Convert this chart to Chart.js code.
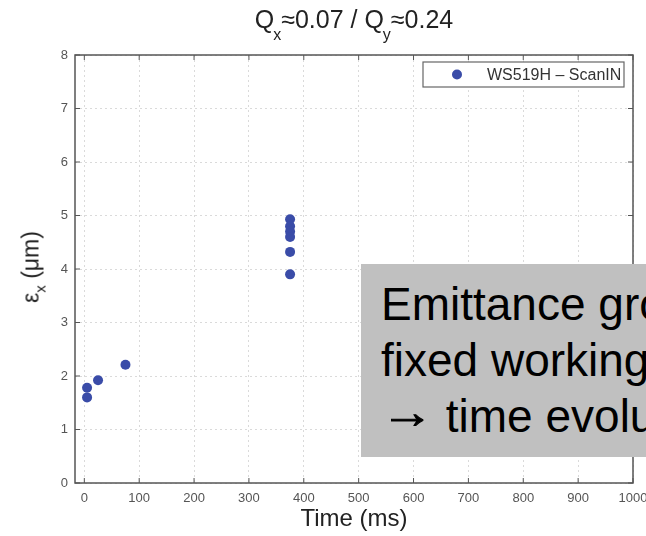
<!DOCTYPE html>
<html>
<head>
<meta charset="utf-8">
<script src="https://cdn.jsdelivr.net/npm/chart.js@4.4.0/dist/chart.umd.min.js"></script>
<style>
  body { margin:0; width:646px; height:536px; overflow:hidden; background:#fff; position:relative;
         font-family:"Liberation Sans", Arial, sans-serif; }
  #myChart { position:absolute; left:0; top:0; }
  #title { position:absolute; left:0; top:7px; width:708px; text-align:center; font-size:25px;
           line-height:25px; color:#222; white-space:nowrap; }
  #title .sub { position:relative; top:12px; font-size:16px; margin-left:-1px; }
  #ylabel { position:absolute; left:32px; top:267px; transform:translate(-50%,-50%) rotate(-90deg);
            font-size:23px; line-height:26px; color:#222; white-space:nowrap; }
  #ylabel .sub { position:relative; top:7px; font-size:15px; }
  #note { position:absolute; left:361px; top:264px; width:330px; height:193px; background:#c0c0c0;
          box-sizing:border-box; padding:12px 0 0 20px; font-size:46px; line-height:56px;
          color:#000; white-space:nowrap; overflow:hidden; }
  #note .arrow { display:inline-block; transform:scaleX(1.15); transform-origin:left center;
                 -webkit-text-stroke:1px #000; margin-right:6px; position:relative; top:-4px; }
</style>
</head>
<body>
<canvas id="myChart" width="646" height="536"></canvas>
<div id="title">Q<span class="sub">x</span>≈0.07 / Q<span class="sub">y</span>≈0.24</div>
<div id="ylabel">ε<span class="sub">x</span> (μm)</div>
<div id="note">Emittance growth at<br>fixed working point<br><span class="arrow">→</span> time evolution</div>
<script>
// wire scanner measurements, horizontal plane
const seriesLabel = "WS519H – ScanIN";
const times = [5, 5, 25, 75, 375, 375, 375, 375, 375, 375];          // ms
const emittance = [1.78, 1.60, 1.92, 2.21, 4.93, 4.80, 4.70, 4.60, 4.32, 3.90]; // um
const xTicks = [0, 100, 200, 300, 400, 500, 600, 700, 800, 900, 1000];
const yTicks = [0, 1, 2, 3, 4, 5, 6, 7, 8];

const dotColor = "#3a4ca8";
const axisColor = "#555";

// box round the plot, matlab style ticks pointing inwards, and the legend
const framePlugin = {
    id: "frame",
    afterDraw(chart) {
        const ctx = chart.ctx;
        const a = chart.chartArea;
        const xs = chart.scales.x;
        const ys = chart.scales.y;
        ctx.save();
        ctx.strokeStyle = axisColor;
        ctx.lineWidth = 1.5;
        ctx.strokeRect(a.left, a.top, a.right - a.left, a.bottom - a.top);

        ctx.lineWidth = 1;
        ctx.beginPath();
        xs.ticks.forEach(t => {
            const px = xs.getPixelForValue(t.value);
            ctx.moveTo(px, a.bottom); ctx.lineTo(px, a.bottom - 5);
            ctx.moveTo(px, a.top); ctx.lineTo(px, a.top + 5);
        });
        ys.ticks.forEach(t => {
            const py = ys.getPixelForValue(t.value);
            ctx.moveTo(a.left, py); ctx.lineTo(a.left + 5, py);
            ctx.moveTo(a.right, py); ctx.lineTo(a.right - 5, py);
        });
        ctx.stroke();

        // legend
        const ds = chart.data.datasets[0];
        const bw = 201, bh = 25;
        const bx = a.right - 9 - bw, by = a.top + 7;
        ctx.fillStyle = "#fff";
        ctx.fillRect(bx, by, bw, bh);
        ctx.strokeStyle = "#666";
        ctx.lineWidth = 1.2;
        ctx.strokeRect(bx, by, bw, bh);
        ctx.fillStyle = ds.backgroundColor;
        ctx.beginPath();
        ctx.arc(bx + 34, by + bh / 2, ds.pointRadius, 0, Math.PI * 2);
        ctx.fill();
        ctx.fillStyle = "#333";
        ctx.font = '16px "Liberation Sans", Arial, sans-serif';
        ctx.textBaseline = "middle";
        ctx.fillText(ds.label, bx + 64, by + bh / 2 + 1);
        ctx.restore();
    }
};

const ctx = document.getElementById("myChart");
new Chart(ctx, {
    type: "scatter",
    data: {
        datasets: [{
            label: seriesLabel,
            data: times.map((t, i) => ({ x: t, y: emittance[i] })),
            backgroundColor: dotColor,
            borderColor: dotColor,
            borderWidth: 0,
            pointRadius: 5,
            pointHoverRadius: 5
        }]
    },
    options: {
        responsive: false,
        animation: false,
        devicePixelRatio: 1,
        layout: { padding: { top: 55, right: 13, left: 0, bottom: 0 } },
        plugins: {
            legend: { display: false },
            tooltip: { enabled: false },
            title: { display: false }
        },
        scales: {
            x: {
                type: "linear",
                min: -17,
                max: 1000,
                afterBuildTicks: s => { s.ticks = xTicks.map(v => ({ value: v })); },
                afterFit: s => { s.height = 53; s.paddingLeft = 0; s.paddingRight = 0; },
                grid: { color: "#dadada", drawTicks: false },
                border: { display: false, dash: [2, 3] },
                ticks: {
                    padding: 8,
                    color: "#555",
                    font: { family: '"Liberation Sans", Arial, sans-serif', size: 13 },
                    callback: v => String(v)
                },
                title: {
                    display: true,
                    text: "Time (ms)",
                    color: "#222",
                    font: { family: '"Liberation Sans", Arial, sans-serif', size: 24 },
                    padding: { top: 0, bottom: 2 }
                }
            },
            y: {
                min: 0,
                max: 8,
                afterBuildTicks: s => { s.ticks = yTicks.map(v => ({ value: v })); },
                afterFit: s => { s.width = 75; s.paddingTop = 0; s.paddingBottom = 0; },
                grid: { color: "#dadada", drawTicks: false },
                border: { display: false, dash: [2, 3] },
                ticks: {
                    padding: 7,
                    color: "#555",
                    font: { family: '"Liberation Sans", Arial, sans-serif', size: 13 },
                    callback: v => String(v)
                }
            }
        }
    },
    plugins: [framePlugin]
});
</script>
</body>
</html>
